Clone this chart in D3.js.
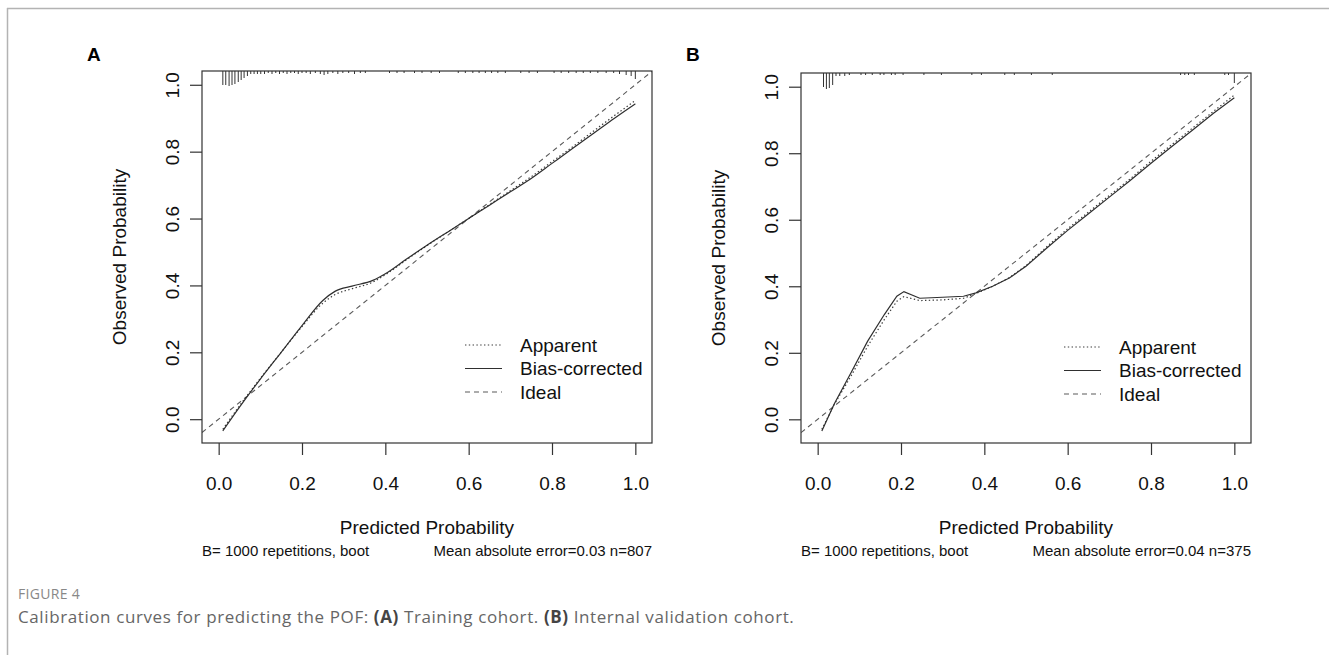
<!DOCTYPE html>
<html>
<head>
<meta charset="utf-8">
<script src="https://cdn.jsdelivr.net/npm/d3@7"></script>
<style>
  body { margin: 0; background: #fff; }
  svg { display: block; }
</style>
</head>
<body>
<div id="figure"></div>
<script>
// axis ticks
const xTicks = [0, 0.2, 0.4, 0.6, 0.8, 1.0];
const yTicks = [0, 0.2, 0.4, 0.6, 0.8, 1.0];

// panel A - training cohort
const predA = [0.01, 0.05, 0.10, 0.15, 0.20, 0.25, 0.28, 0.32, 0.37, 0.40, 0.45, 0.50, 0.55, 0.60, 0.65, 0.70, 0.75, 0.80, 0.85, 0.90, 0.95, 1.00];
const biasA = [-0.035, 0.036, 0.12, 0.20, 0.28, 0.355, 0.383, 0.398, 0.415, 0.435, 0.478, 0.52, 0.56, 0.60, 0.64, 0.68, 0.72, 0.765, 0.81, 0.855, 0.90, 0.943];
const apparentA = [-0.03, 0.04, 0.122, 0.20, 0.277, 0.347, 0.373, 0.39, 0.41, 0.432, 0.476, 0.519, 0.56, 0.60, 0.642, 0.683, 0.725, 0.77, 0.815, 0.862, 0.908, 0.953];
const rugA = [
  [0.010, 14], [0.017, 14], [0.025, 15], [0.032, 14], [0.039, 13], [0.047, 11], [0.054, 9], [0.061, 7], [0.069, 5],
  [0.077, 3], [0.085, 3], [0.093, 3], [0.101, 3], [0.110, 3], [0.119, 2], [0.128, 3], [0.137, 2], [0.146, 3],
  [0.155, 2], [0.164, 3], [0.173, 2], [0.182, 2], [0.191, 3], [0.200, 2], [0.210, 2], [0.220, 3], [0.232, 2],
  [0.244, 3], [0.253, 4], [0.262, 3], [0.274, 2], [0.286, 3], [0.298, 2], [0.312, 2], [0.326, 3], [0.340, 2],
  [0.352, 2], [0.410, 2], [0.428, 2], [0.445, 2], [0.470, 2], [0.488, 2], [0.510, 2], [0.530, 2], [0.575, 2],
  [0.592, 2], [0.610, 2], [0.625, 2], [0.640, 2], [0.655, 2], [0.670, 2], [0.688, 2], [0.725, 2], [0.745, 2],
  [0.765, 2], [0.805, 2], [0.822, 2], [0.840, 2], [0.858, 2], [0.875, 2], [0.892, 2], [0.910, 2], [0.930, 2],
  [0.948, 2], [0.962, 3], [0.978, 4], [0.990, 5], [1.000, 8]
];
const subA = ['B= 1000 repetitions, boot', 'Mean absolute error=0.03 n=807'];

// panel B - internal validation cohort
const predB = [0.01, 0.04, 0.08, 0.12, 0.16, 0.19, 0.207, 0.245, 0.30, 0.35, 0.38, 0.42, 0.46, 0.50, 0.55, 0.60, 0.65, 0.70, 0.75, 0.80, 0.85, 0.90, 0.95, 1.00];
const biasB = [-0.035, 0.047, 0.14, 0.235, 0.315, 0.37, 0.384, 0.364, 0.367, 0.370, 0.38, 0.40, 0.425, 0.46, 0.515, 0.568, 0.618, 0.668, 0.718, 0.77, 0.82, 0.87, 0.92, 0.967];
const apparentB = [-0.03, 0.045, 0.13, 0.22, 0.30, 0.355, 0.369, 0.357, 0.359, 0.364, 0.378, 0.40, 0.426, 0.462, 0.519, 0.573, 0.623, 0.673, 0.723, 0.776, 0.826, 0.876, 0.926, 0.975];
const rugB = [
  [0.014, 14], [0.021, 16], [0.028, 15], [0.036, 12], [0.044, 3], [0.053, 3], [0.065, 3], [0.076, 2],
  [0.104, 2], [0.115, 2], [0.131, 2], [0.150, 2], [0.159, 2], [0.177, 2], [0.186, 2], [0.205, 2],
  [0.255, 2], [0.297, 2], [0.370, 2], [0.393, 2], [0.449, 2], [0.472, 2], [0.513, 2], [0.563, 2],
  [0.871, 2], [0.881, 2], [0.890, 2], [0.904, 2], [0.977, 2], [0.986, 2], [1.000, 10]
];
const subB = ['B= 1000 repetitions, boot', 'Mean absolute error=0.04 n=375'];

const legendLabels = ['Apparent', 'Bias-corrected', 'Ideal'];

const W = 1329, H = 655;
const axisFont = 'Liberation Sans, Arial, sans-serif';

const svg = d3.select('#figure').append('svg')
  .attr('width', W)
  .attr('height', H);

// figure frame (top and left edges only)
svg.append('line').attr('x1', 7).attr('x2', W).attr('y1', 8.5).attr('y2', 8.5)
  .attr('stroke', '#b3b3b3').attr('stroke-width', 1.5);
svg.append('line').attr('x1', 7.5).attr('x2', 7.5).attr('y1', 8).attr('y2', H)
  .attr('stroke', '#b3b3b3').attr('stroke-width', 1.5);

const styles = {
  apparent: { stroke: '#3a3a3a', dash: '1.4,2.4', width: 1.2 },
  bias: { stroke: '#2f2f2f', dash: null, width: 1.2 },
  ideal: { stroke: '#5a5a5a', dash: '5,4', width: 1.1 }
};

function drawPanel(cfg) {
  const x = d3.scaleLinear().domain([-0.04, 1.04]).range([cfg.left, cfg.right]);
  const y = d3.scaleLinear().domain([-0.0712, 1.0412]).range([cfg.bottom, cfg.top]);
  const g = svg.append('g');

  g.append('text')
    .attr('x', cfg.left - 115)
    .attr('y', 54)
    .attr('dy', '0.35em')
    .attr('font-family', axisFont)
    .attr('font-weight', 'bold')
    .attr('font-size', 19)
    .text(cfg.label);

  const clipId = 'clip' + cfg.label;
  g.append('clipPath').attr('id', clipId)
    .append('rect')
    .attr('x', cfg.left).attr('y', cfg.top)
    .attr('width', cfg.right - cfg.left).attr('height', cfg.bottom - cfg.top);

  const plot = g.append('g').attr('clip-path', `url(#${clipId})`);

  // ideal diagonal
  const dom = x.domain();
  plot.append('path')
    .datum(dom.map(d => [d, d]))
    .attr('fill', 'none')
    .attr('stroke', styles.ideal.stroke)
    .attr('stroke-width', styles.ideal.width)
    .attr('stroke-dasharray', styles.ideal.dash)
    .attr('d', d3.line().x(d => x(d[0])).y(d => y(d[1])));

  const line = d3.line().x(d => x(d[0])).y(d => y(d[1])).curve(cfg.curve);

  plot.append('path')
    .datum(cfg.pred.map((p, i) => [p, cfg.apparent[i]]))
    .attr('fill', 'none')
    .attr('stroke', styles.apparent.stroke)
    .attr('stroke-width', styles.apparent.width)
    .attr('stroke-dasharray', styles.apparent.dash)
    .attr('d', line);

  plot.append('path')
    .datum(cfg.pred.map((p, i) => [p, cfg.bias[i]]))
    .attr('fill', 'none')
    .attr('stroke', styles.bias.stroke)
    .attr('stroke-width', styles.bias.width)
    .attr('d', line);

  // rug of predicted probabilities hanging from the top
  const rugLen = d3.scaleLinear().domain([0, 15]).range([0, 15]);
  g.append('g').selectAll('line')
    .data(cfg.rug)
    .join('line')
    .attr('x1', d => x(d[0])).attr('x2', d => x(d[0]))
    .attr('y1', cfg.top).attr('y2', d => cfg.top + rugLen(d[1]))
    .attr('stroke', '#333')
    .attr('stroke-width', 1);

  // box
  g.append('rect')
    .attr('x', cfg.left).attr('y', cfg.top)
    .attr('width', cfg.right - cfg.left).attr('height', cfg.bottom - cfg.top)
    .attr('fill', 'none')
    .attr('stroke', '#333')
    .attr('stroke-width', 1.2);

  // x axis
  const xAxis = g.append('g')
    .attr('transform', `translate(0,${cfg.bottom})`)
    .call(d3.axisBottom(x).tickValues(xTicks).tickSize(12).tickFormat(d3.format('.1f')));
  xAxis.select('.domain').remove();
  xAxis.selectAll('.tick line').attr('stroke', '#333').attr('stroke-width', 1.2);
  xAxis.selectAll('.tick text')
    .attr('y', 40).attr('dy', '0.35em')
    .attr('fill', '#111')
    .attr('font-family', axisFont)
    .attr('font-size', 19);

  // y axis, labels parallel to axis
  const yAxis = g.append('g')
    .attr('transform', `translate(${cfg.left},0)`)
    .call(d3.axisLeft(y).tickValues(yTicks).tickSize(12).tickFormat(d3.format('.1f')));
  yAxis.select('.domain').remove();
  yAxis.selectAll('.tick line').attr('stroke', '#333').attr('stroke-width', 1.2);
  yAxis.selectAll('.tick text')
    .attr('transform', 'rotate(-90)')
    .attr('x', 0).attr('y', -30).attr('dy', '0.35em')
    .attr('text-anchor', 'middle')
    .attr('fill', '#111')
    .attr('font-family', axisFont)
    .attr('font-size', 19);

  // axis titles
  const midY = (cfg.top + cfg.bottom) / 2;
  g.append('text')
    .attr('transform', `translate(${cfg.left - 83},${midY}) rotate(-90)`)
    .attr('text-anchor', 'middle')
    .attr('dy', '0.35em')
    .attr('fill', '#111')
    .attr('font-family', axisFont)
    .attr('font-size', 19)
    .text('Observed Probability');

  g.append('text')
    .attr('x', (cfg.left + cfg.right) / 2)
    .attr('y', 527)
    .attr('dy', '0.35em')
    .attr('text-anchor', 'middle')
    .attr('fill', '#111')
    .attr('font-family', axisFont)
    .attr('font-size', 19)
    .text('Predicted Probability');

  g.append('text')
    .attr('x', cfg.left)
    .attr('y', 551)
    .attr('dy', '0.35em')
    .attr('fill', '#111')
    .attr('font-family', axisFont)
    .attr('font-size', 15)
    .text(cfg.sub[0]);

  g.append('text')
    .attr('x', cfg.right)
    .attr('y', 551)
    .attr('dy', '0.35em')
    .attr('text-anchor', 'end')
    .attr('fill', '#111')
    .attr('font-family', axisFont)
    .attr('font-size', 15)
    .text(cfg.sub[1]);

  // legend
  const legStyles = [styles.apparent, styles.bias, styles.ideal];
  const leg = g.append('g').attr('transform', `translate(${cfg.left + 263},${cfg.legendTop})`);
  legendLabels.forEach((lab, i) => {
    const s = legStyles[i];
    leg.append('line')
      .attr('x1', 0).attr('x2', 37)
      .attr('y1', i * 23.5).attr('y2', i * 23.5)
      .attr('stroke', s.stroke)
      .attr('stroke-width', s.width)
      .attr('stroke-dasharray', s.dash);
    leg.append('text')
      .attr('x', 55).attr('y', i * 23.5)
      .attr('dy', '0.35em')
      .attr('fill', '#111')
      .attr('font-family', axisFont)
      .attr('font-size', 19)
      .text(lab);
  });
}

drawPanel({ label: 'A', left: 202, right: 652, top: 71, bottom: 443, legendTop: 345, curve: d3.curveMonotoneX,
  pred: predA, apparent: apparentA, bias: biasA, rug: rugA, sub: subA });
drawPanel({ label: 'B', left: 801, right: 1251, top: 73, bottom: 443, legendTop: 347, curve: d3.curveLinear,
  pred: predB, apparent: apparentB, bias: biasB, rug: rugB, sub: subB });

// caption
svg.append('text')
  .attr('x', 18).attr('y', 594)
  .attr('dy', '0.35em')
  .attr('fill', '#888')
  .attr('font-family', 'Open Sans, Noto Sans, sans-serif')
  .attr('font-size', 14)
  .attr('letter-spacing', 0.3)
  .text('FIGURE 4');

const cap = svg.append('text')
  .attr('x', 18).attr('y', 617)
  .attr('dy', '0.35em')
  .attr('fill', '#666')
  .attr('font-family', 'Open Sans, Noto Sans, sans-serif')
  .attr('font-size', 17)
  .attr('letter-spacing', 0.6);
cap.append('tspan').text('Calibration curves for predicting the POF: ');
cap.append('tspan').attr('font-weight', 'bold').attr('fill', '#444').text('(A)');
cap.append('tspan').text(' Training cohort. ');
cap.append('tspan').attr('font-weight', 'bold').attr('fill', '#444').text('(B)');
cap.append('tspan').text(' Internal validation cohort.');
</script>
</body>
</html>
